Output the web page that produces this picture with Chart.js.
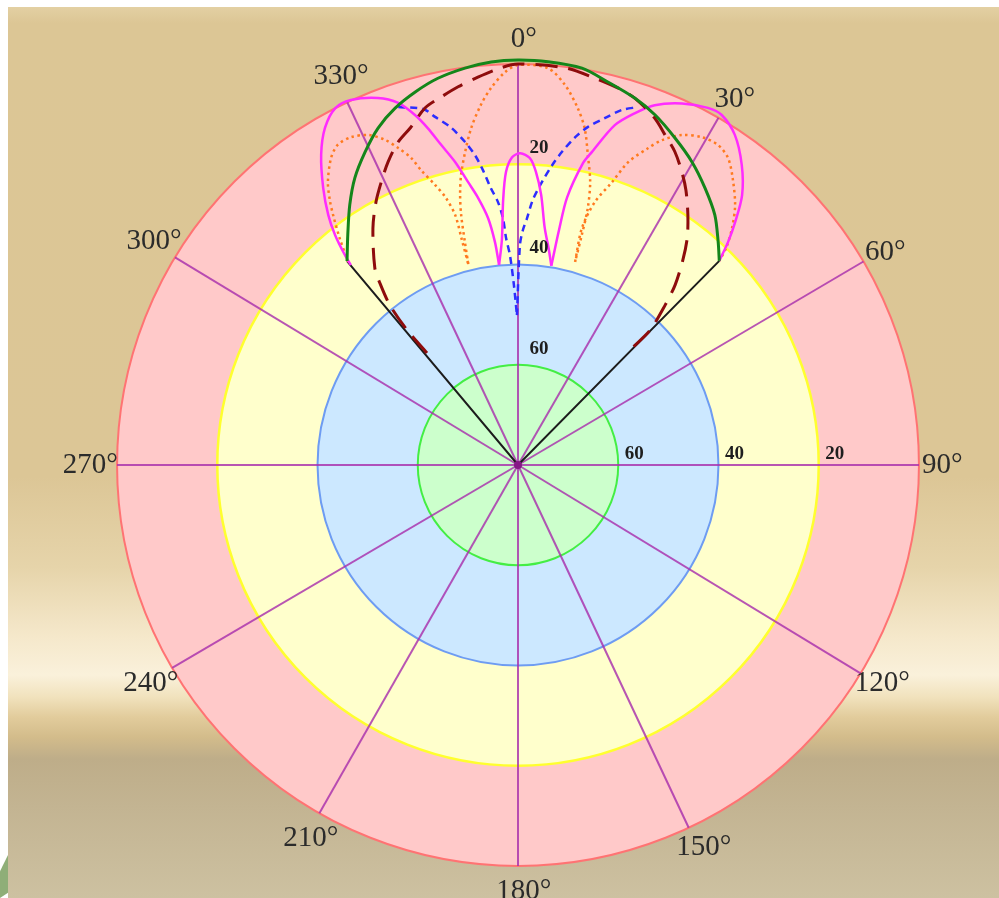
<!DOCTYPE html>
<html>
<head>
<meta charset="utf-8">
<title>Polar pattern</title>
<script src="https://cdn.jsdelivr.net/npm/chart.js@4.4.1/dist/chart.umd.min.js"></script>
<style>
  html, body { margin: 0; padding: 0; background: #ffffff; }
  #stage { position: relative; width: 999px; height: 898px; overflow: hidden; background: #ffffff; }
  #backdrop {
    position: absolute; left: 8px; top: 7px; right: 0; bottom: 0;
    background: linear-gradient(to bottom,
      #e3d0a3 0px, #dcc695 16px, #dcc696 470px, #e6d4aa 560px,
      #f5e8cb 630px, #faf1db 668px, #f1e2bd 690px, #e2cc9c 710px,
      #d3bc8b 730px, #bead89 752px, #c3b492 800px, #cdc1a1 891px);
  }
  #corner {
    position: absolute; left: 0; top: 855px; width: 8px; height: 43px; background: #8fae78;
    clip-path: polygon(0 38%, 100% 0, 100% 88%, 0 100%);
  }
  #chart { position: absolute; left: 0; top: 0; }
</style>
</head>
<body>
<div id="stage">
  <div id="backdrop"></div>
  <div id="corner"></div>
  <canvas id="chart" width="999" height="898"></canvas>
</div>
<script>
// Level (dB) at the centre of the plot; 0 dB sits on the outer circle.
const CENTER_LEVEL = 80;

// Rings and their tick labels
const ringLevels = [0, 20, 40, 60];
const ringFills  = ['#ffc9c9', '#ffffcc', '#cce8ff', '#ccffcc'];
const ringEdges  = ['#ff7373', '#ffff2e', '#6e9cf2', '#44ee44'];
const tickLabels = [20, 40, 60];

// Spoke directions (degrees clockwise from top) and their labels
const spokeAngles = [0, 30, 59.5, 90, 121.3, 154.8, 180, 209.7, 239.6, 270, 301.2, 334.8];
const angleLabels = ['0', '30', '60', '90', '120', '150', '180', '210', '240', '270', '300', '330'];

// Pattern curves: [azimuth in degrees, level in dB]
const greenPattern = [
  [-39.97, 26.9], [-36.5, 22.9], [-32.9, 18.2], [-29.6, 14.1], [-26.05, 10.5],
  [-22.55, 7.2], [-19.0, 4.7], [-15.4, 2.8], [-11.7, 1.2], [-7.6, 0.1],
  [-3.8, -0.6], [0, -0.8], [4.25, -0.7], [9.16, -0.2], [13.2, 1.5],
  [17.7, 3.2], [21.4, 5.0], [25.6, 7.6], [29.9, 10.3], [34.0, 13.3],
  [38.2, 16.5], [41.9, 20.2], [44.6, 22.8]
];
const darkRedPattern = [
  [-39.1, 51.2], [-39.4, 45.1], [-38.7, 39.1], [-37.2, 34.4], [-36.0, 31.4],
  [-31.5, 24.6], [-28.4, 20.4], [-25.8, 17.3], [-23.2, 14.2], [-20.4, 11.3],
  [-17.6, 9.3], [-14.6, 6.4], [-11.8, 5.0], [-9.0, 3.6], [-5.9, 2.2],
  [-2.5, 0.7], [0, 0], [6.75, 0.2], [11.25, 1.3], [14.9, 2.2],
  [17.7, 3.2], [21.5, 5.6], [24.0, 7.9], [26.6, 10.1], [29.2, 13.0],
  [31.4, 15.7], [34.2, 19.7], [36.7, 23.5], [38.8, 27.5], [41.1, 32.3],
  [42.6, 36.6], [44.4, 42.3], [44.3, 47.1]
];
const blueLeftBranch = [
  [-18.5, 4.7], [-14.9, 6.5], [-13.4, 8.6], [-11.2, 11.4], [-9.3, 14.7],
  [-7.9, 17.6], [-6.8, 20.7], [-5.6, 24.5], [-4.35, 27.4], [-3.5, 30.6],
  [-3.0, 34.7], [-2.2, 38.1], [-1.3, 44.1], [-0.4, 50.1]
];
const blueRightBranch = [
  [-0.4, 50.1], [0.5, 36.1], [1.2, 33.1], [2.1, 30.7], [3.2, 27.0],
  [4.85, 23.3], [6.5, 19.8], [8.0, 16.9], [9.9, 13.6], [11.7, 11.1],
  [14.1, 8.6], [16.3, 6.2], [18.5, 4.7]
];
const orangeLeftLobe = [
  [-39.9, 27.2], [-38.2, 22.5], [-36.5, 18.0], [-35.4, 15.2], [-33.9, 12.0],
  [-31.35, 8.3], [-29.4, 6.7], [-27.0, 6.6], [-24.4, 7.7], [-22.25, 9.9],
  [-20.7, 12.4], [-19.2, 15.1], [-18.2, 18.1], [-16.5, 21.7], [-15.1, 24.8],
  [-14.1, 28.6], [-14.0, 33.7], [-13.9, 38.7]
];
const orangeMainLobe = [
  [-13.9, 38.7], [-13.4, 34.3], [-12.8, 28.8], [-12.1, 24.9], [-11.1, 21.0],
  [-9.6, 16.7], [-7.9, 12.1], [-5.9, 7.8], [-4.1, 4.6], [-1.9, 1.6],
  [0, 0.2], [4.3, 0.6], [7.05, 3.6], [9.5, 7.8], [11.2, 11.5],
  [12.7, 16.6], [14.3, 21.7], [15.2, 26.9], [15.5, 32.4], [15.7, 37.9]
];
const orangeRightLobe = [
  [15.7, 37.9], [15.1, 31.0], [16.3, 25.3], [18.4, 20.5], [20.0, 15.7],
  [22.3, 11.7], [23.9, 9.1], [26.4, 6.5], [29.3, 5.0], [32.0, 4.7],
  [34.4, 5.8], [36.8, 8.5], [39.85, 12.4], [42.1, 16.3], [43.8, 20.0],
  [44.6, 22.8]
];
const magentaLeftLobe = [
  [-39.9, 28.0], [-39.5, 25.7], [-38.5, 21.4], [-37.2, 17.4], [-35.1, 12.4],
  [-32.4, 6.7], [-29.8, 2.5], [-27.1, 0.0], [-24.6, -0.1], [-20.9, 1.6],
  [-18.3, 3.9], [-16.4, 7.2], [-15.0, 10.4], [-13.5, 14.3], [-11.7, 18.3],
  [-10.0, 22.7], [-8.5, 26.1], [-6.9, 30.4], [-5.9, 35.3], [-5.4, 39.9]
];
const magentaMainLobe = [
  [-5.4, 39.9], [-4.1, 35.0], [-3.2, 27.0], [-2.35, 21.5], [-1.1, 18.6],
  [0.4, 17.8], [2.2, 18.7], [3.5, 21.4], [4.9, 25.9], [6.4, 32.3],
  [8.2, 36.7], [9.5, 39.7]
];
const magentaRightLobe = [
  [9.5, 39.7], [9.9, 32.4], [10.4, 25.7], [12.15, 18.4], [13.3, 15.8],
  [15.9, 9.5], [18.4, 6.0], [20.8, 3.2], [24.4, 0.8], [28.0, -0.7],
  [30.2, -0.8], [33.3, 1.2], [36.7, 5.3], [39.7, 10.0], [41.8, 15.0],
  [43.3, 18.9], [44.6, 22.8]
];
// Sector edges: from the left edge point through the centre to the right edge point
const sectorEdges = [[-39.97, 26.9], [0, 80], [44.6, 22.8]];

// Convert [azimuth, level] into plot coordinates (radius grows as level falls)
function toPlot([deg, level]) {
  const r = CENTER_LEVEL - level;
  const t = deg * Math.PI / 180;
  return { x: r * Math.sin(t), y: r * Math.cos(t) };
}

function curve(points, color, width, dash, tension) {
  return {
    data: points.map(toPlot),
    showLine: true,
    borderColor: color,
    backgroundColor: color,
    borderWidth: width,
    borderDash: dash,
    tension: tension,
    pointRadius: 0,
    fill: false
  };
}

const GREEN = '#14861a', DARK_RED = '#8e0c0c', BLUE = '#2d2dff',
      ORANGE = '#ff7a1f', MAGENTA = '#ff2cff', BLACK = '#1c1c1c';

// First dataset is painted last (on top)
const datasets = [
  curve(greenPattern, GREEN, 3, [], 0.3),
  curve(darkRedPattern, DARK_RED, 3, [22, 11], 0.3),
  curve(magentaLeftLobe, MAGENTA, 2.5, [], 0.3),
  curve(magentaMainLobe, MAGENTA, 2.5, [], 0.3),
  curve(magentaRightLobe, MAGENTA, 2.5, [], 0.3),
  curve(blueLeftBranch, BLUE, 2.5, [7, 5], 0.3),
  curve(blueRightBranch, BLUE, 2.5, [7, 5], 0.3),
  curve(orangeLeftLobe, ORANGE, 2.5, [2.5, 3.5], 0.3),
  curve(orangeMainLobe, ORANGE, 2.5, [2.5, 3.5], 0.3),
  curve(orangeRightLobe, ORANGE, 2.5, [2.5, 3.5], 0.3),
  curve(sectorEdges, BLACK, 2, [], 0)
];

// Polar background: coloured rings, spokes and angle labels
const polarGrid = {
  id: 'polarGrid',
  beforeDatasetsDraw(chart) {
    const { ctx } = chart;
    const xs = chart.scales.x, ys = chart.scales.y;
    const cx = xs.getPixelForValue(0), cy = ys.getPixelForValue(0);
    const radius = lv => xs.getPixelForValue(CENTER_LEVEL - lv) - cx;
    const outer = radius(0);
    ctx.save();
    ringLevels.forEach((lv, i) => {
      ctx.beginPath();
      ctx.arc(cx, cy, radius(lv), 0, Math.PI * 2);
      ctx.fillStyle = ringFills[i];
      ctx.fill();
    });
    ringLevels.forEach((lv, i) => {
      ctx.beginPath();
      ctx.arc(cx, cy, radius(lv), 0, Math.PI * 2);
      ctx.strokeStyle = ringEdges[i];
      ctx.lineWidth = i === 1 ? 2.5 : 2;
      ctx.stroke();
    });
    ctx.strokeStyle = 'rgba(168, 48, 172, 0.82)';
    ctx.lineWidth = 2;
    spokeAngles.forEach(a => {
      const t = a * Math.PI / 180;
      ctx.beginPath();
      ctx.moveTo(cx, cy);
      ctx.lineTo(cx + outer * Math.sin(t), cy - outer * Math.cos(t));
      ctx.stroke();
    });
    ctx.font = '29px "Liberation Serif"';
    ctx.fillStyle = '#2b2b2b';
    ctx.textBaseline = 'middle';
    ctx.textAlign = 'left';
    spokeAngles.forEach((a, i) => {
      const t = a * Math.PI / 180;
      const rr = outer + 25 - 7.5 * Math.sin(t);
      const lx = cx + rr * Math.sin(t);
      const ly = cy - rr * Math.cos(t);
      const w = ctx.measureText(angleLabels[i]).width;
      ctx.fillText(angleLabels[i] + '°', lx - w / 2, ly);
    });
    ctx.restore();
  },
  afterDatasetsDraw(chart) {
    const { ctx } = chart;
    const xs = chart.scales.x, ys = chart.scales.y;
    const cx = xs.getPixelForValue(0), cy = ys.getPixelForValue(0);
    const radius = lv => xs.getPixelForValue(CENTER_LEVEL - lv) - cx;
    ctx.save();
    ctx.beginPath();
    ctx.arc(cx, cy, 4, 0, Math.PI * 2);
    ctx.fillStyle = '#861886';
    ctx.fill();
    ctx.font = 'bold 19px "Liberation Serif"';
    ctx.fillStyle = '#1e1e1e';
    ctx.textAlign = 'center';
    ctx.textBaseline = 'middle';
    tickLabels.forEach(lv => {
      const r = radius(lv);
      ctx.fillText(String(lv), cx + 21, cy - r - 16);
      ctx.fillText(String(lv), cx + r + 16, cy - 11);
    });
    ctx.restore();
  }
};

new Chart(document.getElementById('chart'), {
  type: 'scatter',
  data: { datasets },
  options: {
    responsive: false,
    animation: false,
    devicePixelRatio: 1,
    layout: { padding: { left: 97, right: 60, top: 44, bottom: 12 } },
    plugins: { legend: { display: false }, tooltip: { enabled: false } },
    scales: {
      x: { type: 'linear', min: -84, max: 84, display: false },
      y: { type: 'linear', min: -84, max: 84, display: false }
    }
  },
  plugins: [polarGrid]
});
</script>
</body>
</html>
